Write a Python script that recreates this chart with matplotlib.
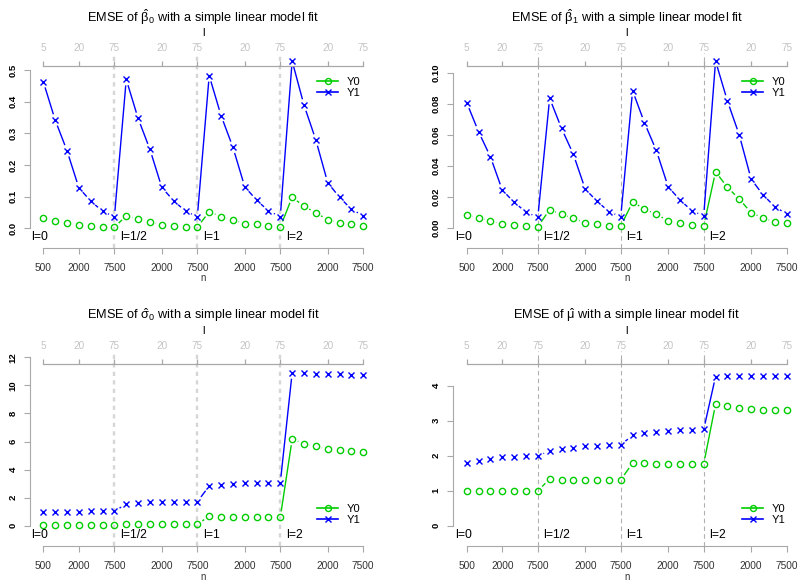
#!/usr/bin/env python3
"""
EMSE of the estimates from a simple linear model fit, drawn as nested-loop panels.

Outputs:
  * out.png
"""
from __future__ import annotations

import matplotlib

matplotlib.use("Agg")
import matplotlib.pyplot as plt
import numpy as np
from matplotlib.collections import LineCollection
from matplotlib.lines import Line2D

# ---------------------------------------------------------------- data
block_labels = ["l=0", "l=1/2", "l=1", "l=2"]
n_tick_pos = [0, 3, 6, 10, 13, 17, 20, 24, 27]
n_tick_labels = ["500", "2000", "7500", "2000", "7500", "2000", "7500", "2000", "7500"]
l_tick_labels = ["5", "20", "75", "20", "75", "20", "75", "20", "75"]
series_names = ["Y0", "Y1"]

beta0_y0 = [0.032, 0.024, 0.017, 0.0095, 0.0063, 0.004, 0.003,
            0.040, 0.029, 0.021, 0.0116, 0.008, 0.005, 0.004,
            0.052, 0.037, 0.027, 0.0147, 0.012, 0.008, 0.004,
            0.098, 0.070, 0.049, 0.027, 0.018, 0.0126, 0.008]
beta0_y1 = [0.463, 0.342, 0.245, 0.128, 0.086, 0.054, 0.036,
            0.470, 0.347, 0.249, 0.129, 0.087, 0.054, 0.037,
            0.482, 0.356, 0.256, 0.131, 0.089, 0.055, 0.037,
            0.528, 0.389, 0.279, 0.144, 0.098, 0.060, 0.040]
beta1_y0 = [0.0084, 0.0065, 0.0045, 0.0024, 0.0017, 0.0013, 0.0006,
            0.0117, 0.0087, 0.0061, 0.0032, 0.0022, 0.0013, 0.0010,
            0.0166, 0.0121, 0.0087, 0.0045, 0.0030, 0.0019, 0.0013,
            0.0362, 0.0261, 0.0186, 0.0097, 0.0063, 0.0037, 0.0028]
beta1_y1 = [0.0809, 0.0621, 0.0459, 0.0244, 0.0164, 0.0102, 0.0067,
            0.0837, 0.0643, 0.0475, 0.0250, 0.0171, 0.0104, 0.0071,
            0.0886, 0.0679, 0.0500, 0.0265, 0.0179, 0.0110, 0.0076,
            0.1078, 0.0820, 0.0600, 0.0315, 0.0213, 0.0136, 0.0089]
sigma0_y0 = [0.02, 0.02, 0.02, 0.02, 0.02, 0.02, 0.02,
             0.12, 0.12, 0.12, 0.12, 0.11, 0.11, 0.11,
             0.67, 0.63, 0.63, 0.62, 0.62, 0.61, 0.60,
             6.16, 5.85, 5.66, 5.44, 5.37, 5.30, 5.25]
sigma0_y1 = [0.95, 0.98, 1.00, 1.00, 1.02, 1.02, 1.03,
             1.55, 1.64, 1.66, 1.71, 1.71, 1.71, 1.71,
             2.83, 2.90, 2.97, 3.02, 3.04, 3.04, 3.07,
             10.90, 10.86, 10.84, 10.79, 10.79, 10.76, 10.74]
mu_y0 = [1.00, 1.00, 1.00, 1.00, 1.00, 1.00, 1.00,
         1.33, 1.32, 1.32, 1.31, 1.31, 1.31, 1.31,
         1.79, 1.78, 1.77, 1.76, 1.76, 1.76, 1.76,
         3.47, 3.42, 3.37, 3.33, 3.31, 3.31, 3.30]
mu_y1 = [1.80, 1.86, 1.90, 1.95, 1.97, 1.99, 2.00,
         2.13, 2.18, 2.22, 2.27, 2.29, 2.30, 2.31,
         2.58, 2.64, 2.68, 2.71, 2.73, 2.73, 2.75,
         4.26, 4.28, 4.28, 4.28, 4.28, 4.28, 4.28]

# ---------------------------------------------------------------- layout
W, H = 799, 583
DX = 11.85          # pixels between neighbouring points
GAP = 6.0           # R type="b" gap around each point, pixels
GREEN = "#00CD00"
BLUE = "#0000FF"
AXIS_GREY = "#a8a8a8"

PANELS = [
    dict(title=r"EMSE of $\hat{\beta}_0$ with a simple linear model fit",
         y0=beta0_y0, y1=beta0_y1,
         yticks=[0, 0.1, 0.2, 0.3, 0.4, 0.5], yfmt="{:.1f}",
         left=30, x0=43.3, y0px=228.3, k=316.7, top_line=66, bottom_line=247.7,
         vstyle="thick", legend_xy=(317, 87.5)),
    dict(title=r"EMSE of $\hat{\beta}_1$ with a simple linear model fit",
         y0=beta1_y0, y1=beta1_y1,
         yticks=[0, 0.02, 0.04, 0.06, 0.08, 0.10], yfmt="{:.2f}",
         left=453.3, x0=466.7, y0px=227.7, k=1546, top_line=66, bottom_line=247.7,
         vstyle="thin", legend_xy=(742, 87.5)),
    dict(title=r"EMSE of $\hat{\sigma}_0$ with a simple linear model fit",
         y0=sigma0_y0, y1=sigma0_y1,
         yticks=[0, 2, 4, 6, 8, 10, 12], yfmt="{:.0f}",
         left=30, x0=43.3, y0px=525.7, k=14.03, top_line=364, bottom_line=546,
         vstyle="thick", legend_xy=(317, 514.5)),
    dict(title=r"EMSE of $\hat{\mu}$ with a simple linear model fit",
         y0=mu_y0, y1=mu_y1,
         yticks=[0, 1, 2, 3, 4], yfmt="{:.0f}",
         left=453.3, x0=466.7, y0px=525.7, k=35.0, top_line=364, bottom_line=546,
         vstyle="thin", legend_xy=(742, 514.5)),
]


def gapped_segments(ax, x, y, gap):
    """Line pieces between consecutive points, shortened by `gap` px at each end."""
    pts = ax.transData.transform(np.column_stack([x, y]))
    inv = ax.transData.inverted()
    segs = []
    for p, q in zip(pts[:-1], pts[1:]):
        d = q - p
        length = np.hypot(*d)
        if length <= 2 * gap:
            continue
        u = d / length
        segs.append(inv.transform(np.array([p + u * gap, q - u * gap])))
    return segs


def draw_panel(fig, cfg) -> None:
    L, x0 = cfg["left"], cfg["x0"]
    xmin = (L - x0) / DX
    xmax = 27 - xmin
    R = L + (xmax - xmin) * DX
    top_px = cfg["top_line"] - 13
    bot_px = cfg["bottom_line"]
    y0px, k = cfg["y0px"], cfg["k"]

    def py(px):
        return (y0px - px) / k

    ax = fig.add_axes([L / W, 1 - bot_px / H, (R - L) / W, (bot_px - top_px) / H])
    ax.set_xlim(xmin, xmax)
    ax.set_ylim(py(bot_px), py(top_px))
    ax.patch.set_visible(False)

    # spines / axes
    for s in ("top", "right"):
        ax.spines[s].set_visible(False)
    ax.spines["left"].set_bounds(cfg["yticks"][0], cfg["yticks"][-1])
    ax.spines["left"].set_color(AXIS_GREY)
    ax.spines["bottom"].set_bounds(0, 27)
    ax.spines["bottom"].set_color(AXIS_GREY)

    ax.set_yticks(cfg["yticks"], [cfg["yfmt"].format(v) for v in cfg["yticks"]],
                  fontweight="bold", rotation=90, va="center")
    ax.tick_params(axis="y", length=4, color=AXIS_GREY, labelsize=6.8, pad=5,
                   labelcolor="black")
    ax.set_xticks(n_tick_pos, n_tick_labels)
    ax.tick_params(axis="x", length=4, color=AXIS_GREY, labelsize=7.3, pad=7,
                   labelcolor="#333333")

    # top "l" axis
    ytop = py(cfg["top_line"])
    ax.plot([0, 27], [ytop, ytop], color=AXIS_GREY, lw=0.9, clip_on=False)
    ax.vlines(n_tick_pos, ytop, py(cfg["top_line"] - 5), color=AXIS_GREY, lw=0.9,
              clip_on=False)
    for xt, lab in zip(n_tick_pos, l_tick_labels):
        ax.text(xt, py(cfg["top_line"] - 18), lab, ha="center", va="center",
                fontsize=7.2, color="#c4c4c4", clip_on=False)
    ax.text(13.5, py(cfg["top_line"] - 32.5), "l", ha="center", va="center",
            fontsize=8, color="black", clip_on=False)
    ax.text(13.5, py(cfg["top_line"] - 48.5), cfg["title"], ha="center",
            va="center", fontsize=9.2, clip_on=False)
    ax.text(13.5, py(bot_px + 30.5), "n", ha="center", va="center",
            fontsize=7, color="#333333", clip_on=False)

    # block separators and labels
    if cfg["vstyle"] == "thick":
        vkw = dict(color="#d6d6d6", lw=1.7, linestyles=(0, (1.8, 1.8)))
    else:
        vkw = dict(color="#b0b0b0", lw=0.8, linestyles=(0, (4, 3)))
    ax.vlines([6, 13, 20], py(bot_px), py(top_px), zorder=0, **vkw)
    for xb, lab in zip([-1.0, 6.45, 13.45, 20.45], block_labels):
        ax.text(xb, py(bot_px - 10.5), lab, ha="left", va="center", fontsize=8.8,
                clip_on=False)

    # data, type="b"
    x = np.arange(len(cfg["y0"]))
    for yy, color, marker in ((cfg["y0"], GREEN, "o"), (cfg["y1"], BLUE, "x")):
        segs = gapped_segments(ax, x, yy, GAP)
        ax.add_collection(LineCollection(segs, colors=color, linewidths=1.0,
                                         clip_on=False))
        ax.plot(x, yy, ls="none", marker=marker, ms=4.5, mew=1.0, mfc="none",
                mec=color, clip_on=False)

    handles = [
        Line2D([], [], color=GREEN, marker="o", ms=4.3, mew=1.0, mfc="none", lw=1.2),
        Line2D([], [], color=BLUE, marker="x", ms=4.3, mew=1.0, lw=1.2),
    ]
    lx, ly = cfg["legend_xy"]
    ax.legend(handles, series_names, loc="center left",
              bbox_to_anchor=(lx / W, 1 - ly / H), bbox_transform=fig.transFigure,
              frameon=False, borderpad=0, borderaxespad=0, handlelength=1.9,
              handletextpad=0.8, labelspacing=0.15, fontsize=8)


def main() -> None:
    plt.rcParams["font.family"] = ["Liberation Sans", "DejaVu Sans"]
    plt.rcParams["mathtext.fontset"] = "custom"
    plt.rcParams["mathtext.rm"] = "Liberation Sans"
    plt.rcParams["mathtext.it"] = "Liberation Sans"
    fig = plt.figure(figsize=(W / 100, H / 100), dpi=100)
    for cfg in PANELS:
        draw_panel(fig, cfg)
    fig.savefig("out.png", dpi=100)
    plt.close(fig)


if __name__ == "__main__":
    main()
